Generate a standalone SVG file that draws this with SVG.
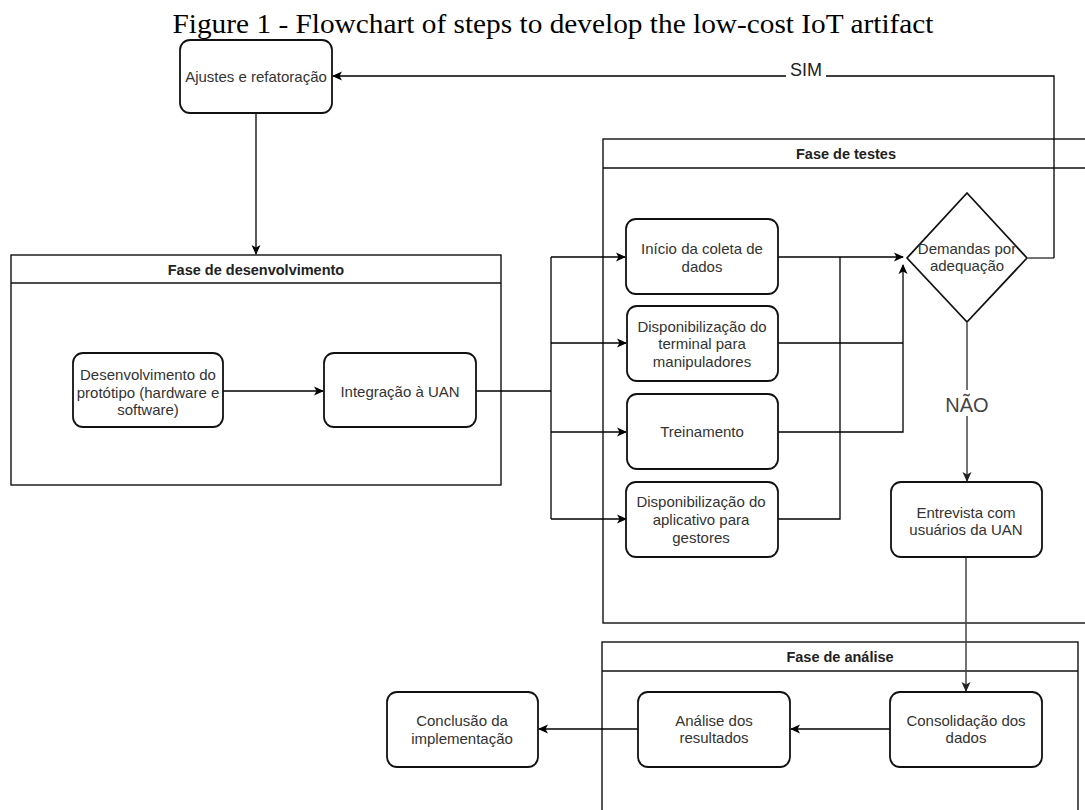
<svg xmlns="http://www.w3.org/2000/svg" width="1085" height="810" viewBox="0 0 1085 810">
<defs>
<marker id="arr" markerWidth="10" markerHeight="10" refX="9" refY="5" orient="auto" markerUnits="userSpaceOnUse">
<path d="M0,0.5 L10,5 L0,9.5 L2.5,5 z" fill="#000"/>
</marker>
<marker id="arrg" markerWidth="10" markerHeight="10" refX="9" refY="5" orient="auto" markerUnits="userSpaceOnUse">
<path d="M0,0.5 L10,5 L0,9.5 L2.5,5 z" fill="#222"/>
</marker>
</defs>
<style>
.node{fill:#fff;stroke:#111;stroke-width:1.8}
.lane{fill:none;stroke:#111;stroke-width:1.4}
.t{font-family:"Liberation Sans",Arial,sans-serif;font-size:15px;fill:#333;text-anchor:middle}
.h{font-family:"Liberation Sans",Arial,sans-serif;font-size:14.5px;font-weight:bold;fill:#222;text-anchor:middle}
.c{fill:none;stroke:#000;stroke-width:1.3}
.cg{fill:none;stroke:#444;stroke-width:1.5}
.title{font-family:"Liberation Serif","Times New Roman",serif;font-size:27px;fill:#000;text-anchor:middle}
</style>
<rect width="1085" height="810" fill="#fff"/>
<text class="title" x="553" y="33" textLength="761" lengthAdjust="spacingAndGlyphs">Figure 1 - Flowchart of steps to develop the low-cost IoT artifact</text>

<g id="lane-desenvolvimento">
<rect class="lane" x="11" y="255" width="490" height="230"/>
<line class="lane" x1="11" y1="283" x2="501" y2="283"/>
<text class="h" x="256" y="275">Fase de desenvolvimento</text>
</g>
<g id="lane-testes">
<rect class="lane" x="603" y="139" width="500" height="484"/>
<line class="lane" x1="603" y1="168" x2="1085" y2="168"/>
<text class="h" x="846" y="159">Fase de testes</text>
</g>
<g id="lane-analise">
<rect class="lane" x="602" y="642" width="476" height="190"/>
<line class="lane" x1="602" y1="671" x2="1078" y2="671"/>
<text class="h" x="840" y="662">Fase de análise</text>
</g>

<g id="connectors">
<path class="c" d="M256,113 V254" marker-end="url(#arr)"/>
<path class="c" d="M223,391 H323" marker-end="url(#arr)"/>
<path class="c" d="M476,391 H551"/>
<path class="c" d="M551,257 V519"/>
<path class="c" d="M551,257 H625" marker-end="url(#arr)"/>
<path class="c" d="M551,343 H626" marker-end="url(#arr)"/>
<path class="c" d="M551,432 H626" marker-end="url(#arr)"/>
<path class="c" d="M551,519 H626" marker-end="url(#arr)"/>
<path class="c" d="M778,257 H903" marker-end="url(#arr)"/>
<path class="c" d="M778,519 H840 V257"/>
<path class="c" d="M778,343 H903"/>
<path class="c" d="M778,432 H903 V265" marker-end="url(#arr)"/>
<path class="cg" d="M1028,258 H1054"/>
<path class="c" d="M1054,258 V76 H333" marker-end="url(#arr)"/>
<rect x="786" y="60" width="40" height="18" fill="#fff"/>
<text x="806" y="76" font-family="Liberation Sans,Arial,sans-serif" font-size="18" fill="#222" text-anchor="middle">SIM</text>
<path class="cg" d="M967,323 V481" marker-end="url(#arrg)"/>
<rect x="940" y="390" width="54" height="26" fill="#fff"/>
<text x="967" y="412" font-family="Liberation Sans,Arial,sans-serif" font-size="20" fill="#444" text-anchor="middle">NÃO</text>
<path class="cg" d="M966,557 V691" marker-end="url(#arrg)"/>
<path class="c" d="M890,729 H791" marker-end="url(#arr)"/>
<path class="c" d="M638,729 H539" marker-end="url(#arr)"/>
</g>

<g id="node-ajustes">
<rect class="node" x="180" y="40" width="152" height="73" rx="10"/>
<text class="t" x="256" y="82">Ajustes e refatoração</text>
</g>
<g id="node-desenvolvimento">
<rect class="node" x="73" y="353" width="150" height="74" rx="10"/>
<text class="t" x="148" y="380">Desenvolvimento do</text>
<text class="t" x="148" y="398">protótipo (hardware e</text>
<text class="t" x="148" y="415">software)</text>
</g>
<g id="node-integracao">
<rect class="node" x="324" y="353" width="152" height="74" rx="10"/>
<text class="t" x="400" y="397">Integração à UAN</text>
</g>
<g id="node-inicio">
<rect class="node" x="626" y="219" width="152" height="75" rx="10"/>
<text class="t" x="702" y="254">Início da coleta de</text>
<text class="t" x="702" y="272">dados</text>
</g>
<g id="node-terminal">
<rect class="node" x="627" y="306" width="151" height="75" rx="10"/>
<text class="t" x="702" y="332">Disponibilização do</text>
<text class="t" x="702" y="349">terminal para</text>
<text class="t" x="702" y="367">manipuladores</text>
</g>
<g id="node-treinamento">
<rect class="node" x="627" y="394" width="151" height="75" rx="10"/>
<text class="t" x="702" y="437">Treinamento</text>
</g>
<g id="node-aplicativo">
<rect class="node" x="626" y="482" width="152" height="75" rx="10"/>
<text class="t" x="701" y="507">Disponibilização do</text>
<text class="t" x="701" y="525">aplicativo para</text>
<text class="t" x="701" y="543">gestores</text>
</g>
<g id="node-demandas">
<path class="node" d="M967,193 L1027,258 L967,322 L907,258 Z" stroke-linejoin="round"/>
<text class="t" x="967" y="254">Demandas por</text>
<text class="t" x="967" y="271">adequação</text>
</g>
<g id="node-entrevista">
<rect class="node" x="891" y="482" width="151" height="75" rx="10"/>
<text class="t" x="966" y="518">Entrevista com</text>
<text class="t" x="966" y="535">usuários da UAN</text>
</g>
<g id="node-consolidacao">
<rect class="node" x="890" y="692" width="152" height="75" rx="10"/>
<text class="t" x="966" y="726">Consolidação dos</text>
<text class="t" x="966" y="743">dados</text>
</g>
<g id="node-analise">
<rect class="node" x="638" y="692" width="152" height="75" rx="10"/>
<text class="t" x="714" y="726">Análise dos</text>
<text class="t" x="714" y="743">resultados</text>
</g>
<g id="node-conclusao">
<rect class="node" x="387" y="692" width="151" height="75" rx="10"/>
<text class="t" x="462" y="726">Conclusão da</text>
<text class="t" x="462" y="744">implementação</text>
</g>
</svg>
